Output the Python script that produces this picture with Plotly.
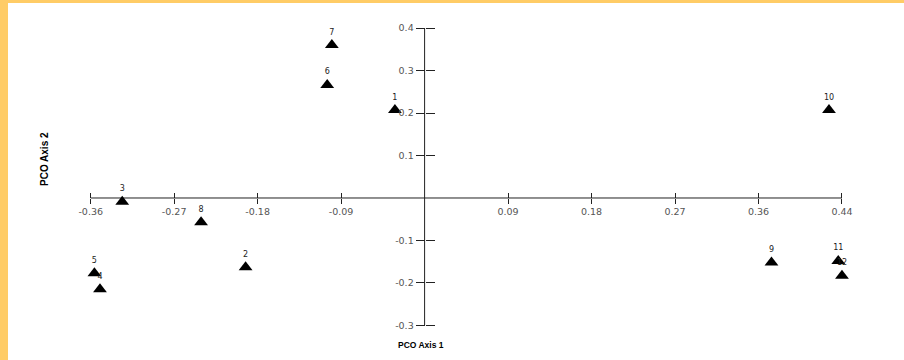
import plotly.graph_objects as go

# Data
labels = ["1", "2", "3", "4", "5", "6", "7", "8", "9", "10", "11", "12"]
pco1 = [-0.032, -0.193, -0.326, -0.350, -0.356, -0.105, -0.100, -0.241, 0.374, 0.436, 0.446, 0.450]
pco2 = [0.207, -0.163, -0.009, -0.215, -0.177, 0.266, 0.360, -0.057, -0.152, 0.207, -0.148, -0.183]

x_tickvals = [-0.36, -0.27, -0.18, -0.09, 0.09, 0.18, 0.27, 0.36, 0.45]
x_ticktext = ["-0.36", "-0.27", "-0.18", "-0.09", "0.09", "0.18", "0.27", "0.36", "0.44"]
y_tickvals = [-0.3, -0.2, -0.1, 0.1, 0.2, 0.3, 0.4]
y_ticktext = ["-0.3", "-0.2", "-0.1", "0.1", "0.2", "0.3", "0.4"]

W, H = 904, 360
ML, MR, MT, MB = 60, 24, 15, 25
xr = [-0.3931, 0.4910]
yr = [-0.3224, 0.4306]
pw, ph = W - ML - MR, H - MT - MB

def px_x(p):
    return (p - ML) / pw

def px_y(p):
    return (H - MB - p) / ph

xpos = (0 - yr[0]) / (yr[1] - yr[0])
ypos = (0 - xr[0]) / (xr[1] - xr[0])

tickfont = dict(family="DejaVu Sans, Arial", size=9.5, color="#555")

fig = go.Figure()
fig.add_trace(go.Scatter(
    x=pco1, y=pco2, mode="markers+text", text=labels,
    textposition="top center",
    textfont=dict(family="DejaVu Sans, Arial", size=8, color="#222"),
    marker=dict(symbol="triangle-up", size=12, color="black"),
    showlegend=False, hoverinfo="skip",
))
fig.add_trace(go.Scatter(x=[None], y=[None], xaxis="x2", yaxis="y2", showlegend=False))

axis_common = dict(showgrid=False, zeroline=False, showline=False,
                   tickcolor="#222", tickwidth=1)
fig.update_layout(
    width=W, height=H,
    margin=dict(l=ML, r=MR, t=MT, b=MB),
    paper_bgcolor="white", plot_bgcolor="white",
    xaxis=dict(range=xr, anchor="free", position=xpos, ticks="outside", ticklen=5,
               tickvals=x_tickvals, ticktext=x_ticktext, tickfont=tickfont, **axis_common),
    xaxis2=dict(range=xr, overlaying="x", anchor="free", position=xpos, side="bottom",
                ticks="inside", ticklen=5, tickvals=x_tickvals, showticklabels=False,
                **axis_common),
    yaxis=dict(range=yr, anchor="free", position=ypos, ticks="outside", ticklen=9,
               tickvals=y_tickvals, ticktext=y_ticktext, tickfont=tickfont, **axis_common),
    yaxis2=dict(range=yr, overlaying="y", anchor="free", position=ypos, side="left",
                ticks="inside", ticklen=9, tickvals=y_tickvals, showticklabels=False,
                **axis_common),
    shapes=[
        dict(type="line", xref="x", yref="y", x0=min(x_tickvals), x1=max(x_tickvals),
             y0=0, y1=0, line=dict(color="#222", width=1), layer="below"),
        dict(type="line", xref="x", yref="y", x0=0, x1=0, y0=min(y_tickvals),
             y1=max(y_tickvals), line=dict(color="#222", width=1), layer="below"),
        dict(type="rect", xref="paper", yref="paper", x0=px_x(0), x1=px_x(8),
             y0=px_y(H), y1=px_y(0), fillcolor="#FFCC66", line=dict(width=0)),
        dict(type="rect", xref="paper", yref="paper", x0=px_x(0), x1=px_x(W),
             y0=px_y(3), y1=px_y(0), fillcolor="#FFCC66", line=dict(width=0)),
    ],
    annotations=[
        dict(text="<b>PCO Axis 1</b>", xref="paper", yref="paper", x=px_x(421), y=px_y(345),
             xanchor="center", yanchor="middle", showarrow=False,
             font=dict(family="Liberation Sans, Arial", size=8.5, color="black")),
        dict(text="<b>PCO Axis 2</b>", xref="paper", yref="paper", x=px_x(44), y=px_y(159),
             xanchor="center", yanchor="middle", showarrow=False, textangle=-90,
             font=dict(family="Liberation Sans Narrow, Arial Narrow, Liberation Sans, Arial",
                       size=10, color="black")),
    ],
)

fig.write_html("out.html", config={"displayModeBar": False},
               post_script="document.body.style.margin='0';document.body.style.overflow='hidden';")
